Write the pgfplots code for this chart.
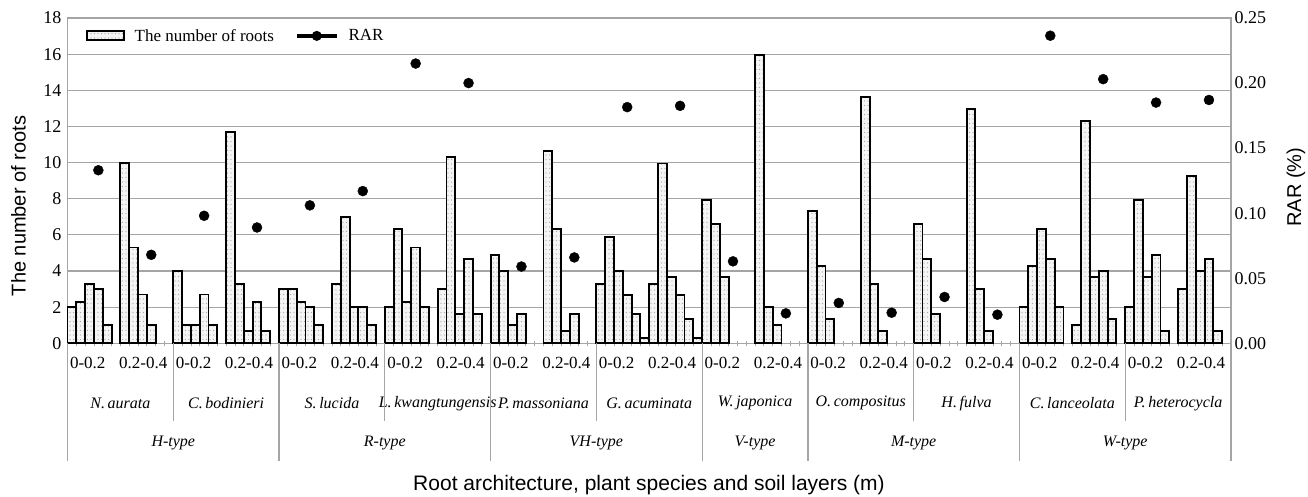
\documentclass[border=0pt]{standalone}
\usepackage{fontspec}
\setmainfont{Liberation Serif}
\newfontfamily\arialfont{Liberation Sans}
\usepackage{pgfplots}
\pgfplotsset{compat=1.18}
\usetikzlibrary{patterns}

\definecolor{gridgray}{RGB}{165,165,165}

% sparse dot pattern of the bars
\pgfdeclarepatternformonly{rootdots}{\pgfqpoint{-1pt}{-1pt}}{\pgfqpoint{1pt}{1pt}}{\pgfqpoint{3.5pt}{4.5pt}}%
  {\pgfpathcircle{\pgfqpoint{0pt}{0pt}}{0.7pt}\pgfusepath{fill}}

\pgfplotsset{
  rootaxis/.style={
    at={(67.5pt,-343.3pt)}, anchor=south west,
    scale only axis, width=1163.5pt, height=325.3pt,
    xmin=-0.5, xmax=131.5,
    /pgf/number format/assume math mode=true,
    tick label style={font=\fontsize{18}{20}\selectfont},
    axis line style={gridgray, line width=1.2pt},
  },
  barlegend/.style={legend image code/.code={\draw[##1] (0pt,-4.5pt) rectangle (37pt,4.5pt);}},
  dotlegend/.style={legend image code/.code={\draw[mark repeat=2, mark phase=2, ##1] plot coordinates {(0pt,0pt) (20pt,0pt) (40pt,0pt)};}},
}
\tikzset{
  lab/.style={font=\fontsize{17}{20}\selectfont, yshift=-20pt},
  spec/.style={font=\itshape\fontsize{16}{20}\selectfont, yshift=-60pt},
  typ/.style={font=\itshape\fontsize{16}{20}\selectfont, yshift=-100pt},
}

\begin{document}
\begin{tikzpicture}
\useasboundingbox (0,0) rectangle (1308pt,-497pt);

\begin{axis}[rootaxis,
  ymin=0, ymax=18, ytick={0,2,...,18},
  ymajorgrids, grid style={gridgray, line width=1.2pt},
  xtick={-0.5,0.5,...,131.5}, xticklabels={}, xtick pos=bottom,
  x tick style={gridgray, line width=0.8pt}, major tick length=5pt, tick align=center,
  y tick style={draw=none},
  clip=false,
  legend columns=2,
  legend cell align=left,
  legend style={at={(0.0156,0.945)}, anchor=west, draw=none, fill=none,
    font=\fontsize{17}{20}\selectfont, inner sep=0pt,
    /tikz/every odd column/.append style={column sep=8pt},
    /tikz/every even column/.append style={column sep=19pt}},
]

% number of roots, 6 slots per soil layer
\addplot[ybar, bar width=1, bar shift=0pt, draw=black, line width=1.9pt,
  fill=gray!9, postaction={pattern=rootdots, pattern color=gray!70}, barlegend]
  table {
x y
0 2
1 2.3
2 3.3
3 3
4 1
6 10
7 5.3
8 2.7
9 1
12 4
13 1
14 1
15 2.7
16 1
18 11.7
19 3.3
20 0.7
21 2.3
22 0.7
24 3
25 3
26 2.3
27 2
28 1
30 3.3
31 7
32 2
33 2
34 1
36 2
37 6.3
38 2.3
39 5.3
40 2
42 3
43 10.3
44 1.6
45 4.65
46 1.6
48 4.9
49 4
50 1
51 1.6
54 10.65
55 6.3
56 0.7
57 1.6
60 3.3
61 5.9
62 4
63 2.65
64 1.6
65 0.3
66 3.3
67 9.95
68 3.65
69 2.65
70 1.33
71 0.3
72 7.95
73 6.6
74 3.65
78 15.95
79 2
80 1
84 7.3
85 4.3
86 1.33
90 13.62
91 3.3
92 0.68
96 6.6
97 4.65
98 1.62
102 12.98
103 3
104 0.68
108 2
109 4.3
110 6.3
111 4.65
112 2
114 1
115 12.3
116 3.65
117 4
118 1.33
120 2
121 7.95
122 3.65
123 4.9
124 0.68
126 3
127 9.27
128 4
129 4.65
130 0.68
};
\addlegendentry{The number of roots}
\addlegendimage{black, line width=3.5pt, mark=*, mark size=4.5pt, mark options={line width=1pt}, dotlegend}
\addlegendentry{RAR}

% soil layers
\node[lab] at (axis cs:1.8,0) {0-0.2};
\node[lab] at (axis cs:8.1,0) {0.2-0.4};
\node[lab] at (axis cs:13.8,0) {0-0.2};
\node[lab] at (axis cs:20.1,0) {0.2-0.4};
\node[lab] at (axis cs:25.8,0) {0-0.2};
\node[lab] at (axis cs:32.1,0) {0.2-0.4};
\node[lab] at (axis cs:37.8,0) {0-0.2};
\node[lab] at (axis cs:44.1,0) {0.2-0.4};
\node[lab] at (axis cs:49.8,0) {0-0.2};
\node[lab] at (axis cs:56.1,0) {0.2-0.4};
\node[lab] at (axis cs:61.8,0) {0-0.2};
\node[lab] at (axis cs:68.1,0) {0.2-0.4};
\node[lab] at (axis cs:73.8,0) {0-0.2};
\node[lab] at (axis cs:80.1,0) {0.2-0.4};
\node[lab] at (axis cs:85.8,0) {0-0.2};
\node[lab] at (axis cs:92.1,0) {0.2-0.4};
\node[lab] at (axis cs:97.8,0) {0-0.2};
\node[lab] at (axis cs:104.1,0) {0.2-0.4};
\node[lab] at (axis cs:109.8,0) {0-0.2};
\node[lab] at (axis cs:116.1,0) {0.2-0.4};
\node[lab] at (axis cs:121.8,0) {0-0.2};
\node[lab] at (axis cs:128.1,0) {0.2-0.4};

% species
\node[spec] at (axis cs:5.5,0) {N.\,aurata};
\node[spec] at (axis cs:17.5,0) {C.\,bodinieri};
\node[spec] at (axis cs:29.5,0) {S.\,lucida};
\node[spec] at (axis cs:41.5,0) {L.\,kwangtungensis};
\node[spec] at (axis cs:53.5,0) {P.\,massoniana};
\node[spec] at (axis cs:65.5,0) {G.\,acuminata};
\node[spec] at (axis cs:77.5,0) {W.\,japonica};
\node[spec] at (axis cs:89.5,0) {O.\,compositus};
\node[spec] at (axis cs:101.5,0) {H.\,fulva};
\node[spec] at (axis cs:113.5,0) {C.\,lanceolata};
\node[spec] at (axis cs:125.5,0) {P.\,heterocycla};

% root architecture types
\node[typ] at (axis cs:11.5,0) {H-type};
\node[typ] at (axis cs:35.5,0) {R-type};
\node[typ] at (axis cs:59.5,0) {VH-type};
\node[typ] at (axis cs:77.5,0) {V-type};
\node[typ] at (axis cs:95.5,0) {M-type};
\node[typ] at (axis cs:119.5,0) {W-type};

% separators
\pgfplotsinvokeforeach{11.5,35.5,59.5,95.5,119.5}{
  \draw[gridgray, line width=1.2pt] (axis cs:#1,0) -- ++(0pt,-78pt);
}
\pgfplotsinvokeforeach{-0.5,23.5,47.5,71.5,83.5,107.5,131.5}{
  \draw[gridgray, line width=1.2pt] (axis cs:#1,0) -- ++(0pt,-118pt);
}
\end{axis}

\begin{axis}[rootaxis,
  ymin=0, ymax=0.25, ytick={0,0.05,0.1,0.15,0.2,0.25},
  axis y line*=right, axis x line=none,
  y tick style={draw=none},
  yticklabel style={/pgf/number format/.cd, fixed, fixed zerofill, precision=2},
]
\addplot[only marks, mark=*, mark size=5pt, black] table {
x y
3 0.133
9 0.068
15 0.098
21 0.089
27 0.106
33 0.117
39 0.215
45 0.200
51 0.059
57 0.066
63 0.1815
69 0.1825
75 0.063
81 0.023
87 0.031
93 0.0235
99 0.0356
105 0.022
111 0.2364
117 0.203
123 0.185
129 0.187
};
\end{axis}

\node[rotate=90, font=\arialfont\fontsize{20}{24}\selectfont] at (18.5pt,-206pt) {The number of roots};
\node[rotate=90, font=\arialfont\fontsize{20}{24}\selectfont] at (1296pt,-187pt) {RAR (\%)};
\node[font=\arialfont\fontsize{21}{24}\selectfont] at (649pt,-485pt) {Root architecture, plant species and soil layers (m)};
\end{tikzpicture}
\end{document}
